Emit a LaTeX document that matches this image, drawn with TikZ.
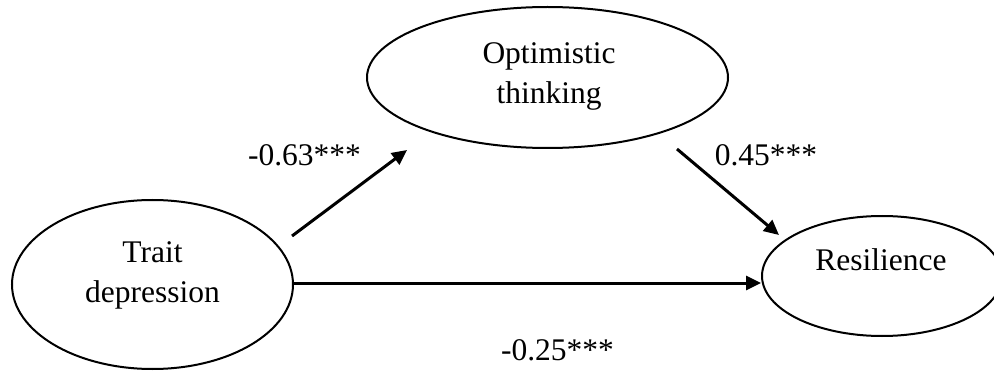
\documentclass[tikz,border=0pt]{standalone}
\usepackage{fontspec}
\setmainfont{Liberation Serif}
\usetikzlibrary{shapes.geometric,arrows.meta}
\begin{document}
\begin{tikzpicture}[x=1pt,y=-1pt,
  every node/.style={font=\fontsize{31.5}{40}\selectfont},
  latent/.style={draw, line width=2pt, ellipse, inner sep=0pt},
  txt/.style={inner sep=0pt, align=center},
  path/.style={line width=3pt, -{Triangle[length=15pt,width=14pt]}}]
\useasboundingbox (0,0) rectangle (994,385);
\begin{scope}
\clip (0,0) rectangle (994,385);
\node[latent, minimum width=361pt, minimum height=141pt] (opt) at (547.5,77.5) {};
\node[latent, minimum width=281pt, minimum height=169pt] (trait) at (152.5,284.5) {};
\node[latent, minimum width=240pt, minimum height=120pt] (res) at (882,276) {};
\end{scope}
\node[txt] (optT) at (549,76.5) {Optimistic\\thinking};
\node[txt] (traitT) at (152.5,275.5) {Trait\\depression};
\node[txt, anchor=base] (resT) at (881,270) {Resilience};
\coordinate (a1s) at (292,236);
\coordinate (a1e) at (407,150);
\coordinate (a2s) at (677,149);
\coordinate (a2e) at (779,235);
\coordinate (a3s) at (trait.east |- 0,283);
\coordinate (a3e) at (res.west |- 0,283);
\draw[path] (a1s) -- (a1e);
\draw[path] (a2s) -- (a2e);
\draw[path] (a3s) -- (a3e);
\node[txt, anchor=base] (l1) at (304.5,166) {-0.63***};
\node[txt, anchor=base] (l2) at (766,166) {0.45***};
\node[txt, anchor=base] (l3) at (557.5,360) {-0.25***};
\end{tikzpicture}
\end{document}
